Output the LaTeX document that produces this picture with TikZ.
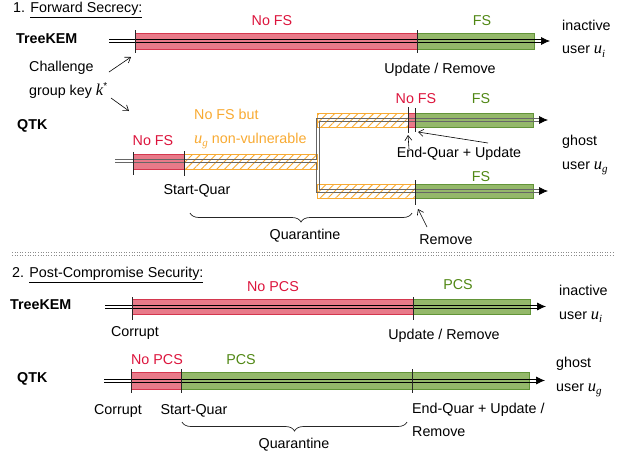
\documentclass[tikz,border=0pt]{standalone}
\usepackage{fontspec}
\setmainfont{Liberation Sans}
\newfontfamily\serifit{Liberation Serif Italic}
\usetikzlibrary{arrows.meta,patterns.meta,decorations.pathreplacing}
\definecolor{redfill}{RGB}{232,122,137}
\definecolor{redline}{RGB}{212,55,78}
\definecolor{greenfill}{RGB}{148,184,106}
\definecolor{greenline}{RGB}{98,148,56}
\definecolor{redtext}{RGB}{220,20,60}
\definecolor{greentext}{RGB}{80,135,20}
\definecolor{orangec}{RGB}{248,170,50}
\newcommand{\mvar}[2]{{\fontsize{16.5}{17}\selectfont\serifit #1}\raisebox{-3.5pt}{\fontsize{11}{11}\selectfont\serifit #2}}
\newcommand{\mvarsup}[2]{{\fontsize{16.5}{17}\selectfont\serifit #1}\raisebox{6pt}{\fontsize{10}{10}\selectfont #2}}
\newcommand{\dl}[4][]{%
  \draw[#1] (#2,{#4-1.6}) -- (#3,{#4-1.6});
  \draw[#1] (#2,{#4+1.6}) -- (#3,{#4+1.6});}
\tikzset{
  every node/.style={font=\fontsize{14.3}{17}\selectfont, inner sep=0pt},
  twoline/.style={align=left, font=\fontsize{14.3}{23.5}\selectfont},
  redbar/.style={fill=redfill, draw=redline, line width=0.6pt},
  greenbar/.style={fill=greenfill, draw=greenline, line width=0.6pt},
  hatchbar/.style={draw=orangec, line width=0.6pt, pattern={Lines[angle=45,distance=5.5pt,line width=0.9pt]}, pattern color=orangec},
  bl/.style={line width=0.7pt, draw=black},
  gl/.style={line width=0.9pt, draw=black!60},
  tick/.style={line width=0.8pt, draw=black!85},
  tipa/.style={-{Latex[length=9pt,width=8pt]}, line width=0.7pt},
  ptr/.style={-{Straight Barb[length=5pt,width=7pt]}, line width=0.6pt},
  rtext/.style={text=redtext},
  gtext/.style={text=greentext},
  otext/.style={text=orangec},
  qbrace/.style={decorate, decoration={brace, mirror, amplitude=9pt}, line width=0.7pt, draw=black!85}
}
\begin{document}
\begin{tikzpicture}[x=1pt,y=-1pt]
\useasboundingbox (0,0) rectangle (624,456);

% ---------- Section 1 ----------
\node[anchor=west] (title1) at (13,10) {1. \underline{Forward Secrecy:}};

% TreeKEM (FS)
\coordinate (a4) at (550,41);
\draw[redbar] (135,33) rectangle (417,49);
\draw[greenbar] (417,33) rectangle (534,49);
\dl[bl]{109}{542}{41}
\draw[tipa] ([xshift=-9pt]a4) -- (a4);
\draw[tick] (135,30) -- (135,53);
\draw[tick] (417,30) -- (417,53);
\node[anchor=west,font=\bfseries\fontsize{14.3}{17}\selectfont] (tk1) at (16,39) {TreeKEM};
\node[rtext] (nofs1) at (272,21) {No FS};
\node[gtext] (fs1) at (482,21) {FS};
\node[twoline,anchor=west] (inact1) at (562,38.5) {inactive\\user \mvar{u}{i}};
\node (upd1) at (440,70) {Update / Remove};
\node[twoline,anchor=west] (chal) at (29,80) {Challenge\\group key \mvarsup{k}{*}};
\coordinate (chA) at (131,57);
\coordinate (chB) at (129,111);
\draw[ptr] (109,72) -- (chA);
\draw[ptr] (111,98) -- (chB);

% QTK (FS)
\draw[redbar] (133,154) rectangle (184,169);
\draw[hatchbar] (184,154) rectangle (317,169);
\draw[hatchbar] (317,113) rectangle (408,127);
\draw[redbar] (408,113) rectangle (415,127);
\draw[greenbar] (415,113) rectangle (533,127);
\draw[hatchbar] (317,184) rectangle (415,198);
\draw[greenbar] (415,184) rectangle (533,198);
\coordinate (qt) at (548,120);
\coordinate (qb) at (548,191);
\draw[gl] (540,118.4) -- (316.4,118.4) -- (316.4,159.4) -- (115,159.4);
\draw[gl] (115,162.6) -- (316.4,162.6) -- (316.4,192.6) -- (540,192.6);
\draw[gl] (540,121.6) -- (319.6,121.6) -- (319.6,189.4) -- (540,189.4);
\draw[tipa] ([xshift=-9pt]qt) -- (qt);
\draw[tipa] ([xshift=-9pt]qb) -- (qb);
\draw[tick] (133,152) -- (133,175);
\draw[tick] (184,151) -- (184,176);
\draw[tick] (408,107) -- (408,133);
\draw[tick] (415,108) -- (415,132);
\draw[tick] (415,180) -- (415,205);
\node[anchor=west,font=\bfseries\fontsize{14.3}{17}\selectfont] (qtk1) at (17,126) {QTK};
\node[rtext] (nofs2) at (153,141) {No FS};
\node[twoline,otext,anchor=west] (nofsbut) at (194,129) {No FS but\\\mvar{u}{g} non-vulnerable};
\node (sq1) at (197,191) {Start-Quar};
\coordinate (br1a) at (190,213);
\coordinate (br1b) at (412,213);
\draw[qbrace] (br1a) -- (br1b);
\node (quar1) at (305,236) {Quarantine};
\node[rtext] (nofs3) at (416,99) {No FS};
\node[gtext] (fs2) at (481,99) {FS};
\node[gtext] (fs3) at (481,177) {FS};
\node (endq) at (459,154) {End-Quar + Update};
\node[twoline,anchor=west] (ghost1) at (562,155) {ghost\\user \mvar{u}{g}};
\node (rem1) at (446,240) {Remove};
\coordinate (eqA) at (408,135);
\coordinate (eqB) at (418,132);
\coordinate (rmA) at (418,209);
\draw[ptr] (409,149) -- (eqA);
\draw[ptr] (488,143) -- (eqB);
\draw[ptr] (427,227) -- (rmA);

% separator
\coordinate (sepL) at (12,252.5);
\coordinate (sepR) at (614,252.5);
\draw[line width=1pt, black!45, dash pattern=on 1pt off 1.6pt] (sepL) -- (sepR);
\draw[line width=1pt, black!45, dash pattern=on 1pt off 1.6pt] ([yshift=-3pt]sepL) -- ([yshift=-3pt]sepR);

% ---------- Section 2 ----------
\node[anchor=west] (title2) at (12,275) {2. \underline{Post-Compromise Security:}};

% TreeKEM (PCS)
\coordinate (b4) at (546,306.5);
\draw[redbar] (132,299) rectangle (413,314);
\draw[greenbar] (413,299) rectangle (530,314);
\dl[bl]{105}{538}{306.5}
\draw[tipa] ([xshift=-9pt]b4) -- (b4);
\draw[tick] (132,297) -- (132,320);
\draw[tick] (413,297) -- (413,320);
\node[anchor=west,font=\bfseries\fontsize{14.3}{17}\selectfont] (tk2) at (10,305) {TreeKEM};
\node[rtext] (nopcs1) at (273,287) {No PCS};
\node[gtext] (pcs1) at (458,285) {PCS};
\node[twoline,anchor=west] (inact2) at (559,304) {inactive\\user \mvar{u}{i}};
\node (cor1) at (135,333) {Corrupt};
\node (upd2) at (444,336) {Update / Remove};

% QTK (PCS)
\coordinate (c4) at (545,380.5);
\draw[redbar] (131,372) rectangle (181,389);
\draw[greenbar] (181,372) rectangle (529,389);
\dl[bl]{104}{537}{380.5}
\draw[tipa] ([xshift=-9pt]c4) -- (c4);
\draw[tick] (131,369) -- (131,393);
\draw[tick] (181,369) -- (181,393);
\draw[tick] (412,369) -- (412,393);
\node[anchor=west,font=\bfseries\fontsize{14.3}{17}\selectfont] (qtk2) at (17,379) {QTK};
\node[rtext] (nopcs2) at (157,360) {No PCS};
\node[gtext] (pcs2) at (241,360) {PCS};
\node[twoline,anchor=west] (ghost2) at (556,377) {ghost\\user \mvar{u}{g}};
\node (cor2) at (118,411) {Corrupt};
\node (sq2) at (194,411) {Start-Quar};
\node[twoline,anchor=west] (endq2) at (412,420) {End-Quar + Update /\\Remove};
\coordinate (br2a) at (182,422);
\coordinate (br2b) at (407,422);
\draw[qbrace] (br2a) -- (br2b);
\node (quar2) at (294,445) {Quarantine};
\end{tikzpicture}
\end{document}
